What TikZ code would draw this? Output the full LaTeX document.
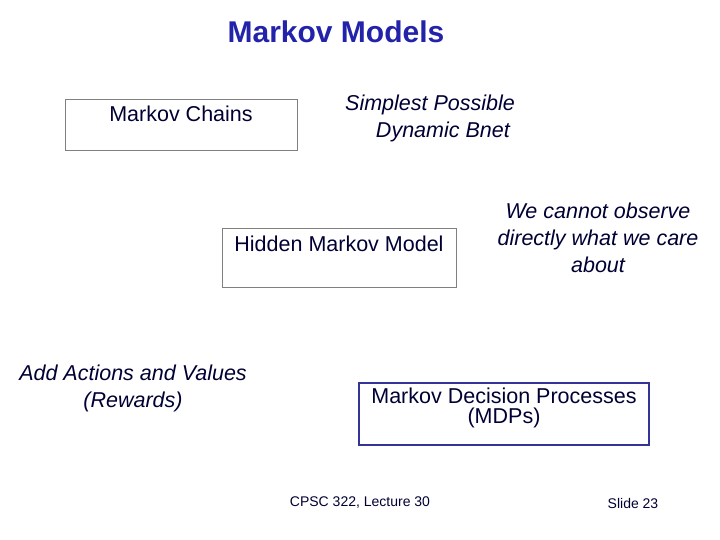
\documentclass[tikz,border=0pt]{standalone}
\usepackage{fontspec}
\setmainfont{Liberation Sans}
\definecolor{navy}{HTML}{000033}
\definecolor{titleblue}{HTML}{2222AA}
\definecolor{boxgray}{HTML}{808080}
\definecolor{boxblue}{HTML}{333399}
\begin{document}
\begin{tikzpicture}[x=1pt,y=-1pt,
  txt/.style={text=navy,font=\fontsize{21.5}{27}\selectfont,inner sep=0pt,align=center},
  itx/.style={txt,font=\fontsize{21.5}{27}\selectfont\itshape},
  gbox/.style={draw=boxgray,line width=0.8pt},
  bbox/.style={draw=boxblue,line width=1.2pt}]
\useasboundingbox (0,0) rectangle (720,540);
\node[font=\fontsize{30}{32}\selectfont\bfseries,text=titleblue] (title) at (336,32) {Markov Models};
\draw[gbox] (65,99) rectangle (297,150);
\node[txt] (mc) at (181,114) {Markov Chains};
\node[itx] (simp) at (430,118) {Simplest Possible\\\hspace{1.2em}Dynamic Bnet};
\draw[gbox] (222,228) rectangle (456,287);
\node[txt] (hmm) at (339,244) {Hidden Markov Model};
\node[itx] (obs) at (598,238) {We cannot observe\\directly what we care\\about};
\node[itx] (add) at (133,388) {Add Actions and Values\\(Rewards)};
\draw[bbox] (359,383) rectangle (649,445);
\node[txt,font=\fontsize{21.5}{20}\selectfont] (mdp) at (504,408) {Markov Decision Processes\\(MDPs)};
\node[text=navy,font=\fontsize{14}{15}\selectfont] (foot) at (360,503) {CPSC 322, Lecture 30};
\node[text=navy,font=\fontsize{14}{15}\selectfont] (slide) at (633,503) {Slide 23};
\end{tikzpicture}
\end{document}
